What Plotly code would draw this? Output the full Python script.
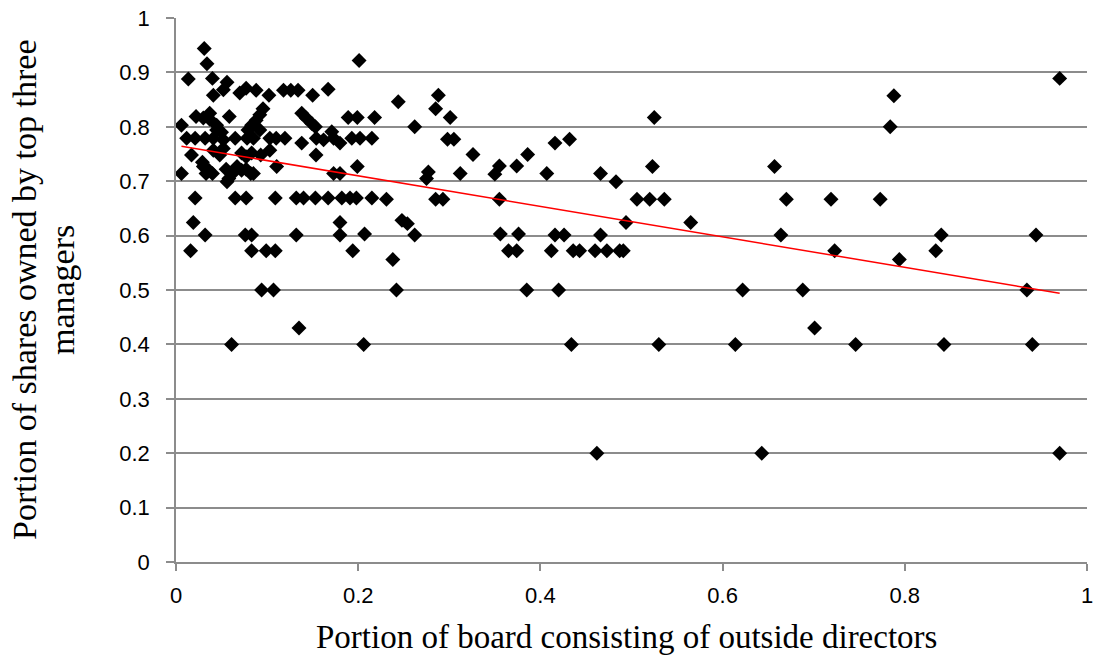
import numpy as np
import plotly.graph_objects as go

# Portion of board consisting of outside directors (x) and
# portion of shares owned by top three managers (y)
board_outside = [
    # top band
    0.031, 0.034, 0.0135, 0.040, 0.056, 0.052, 0.041, 0.070, 0.077, 0.088,
    0.102, 0.118, 0.126, 0.134, 0.150, 0.167, 0.201, 0.244, 0.288, 0.285,
    0.788, 0.970,
    # 0.80-0.84
    0.006, 0.022, 0.030, 0.037, 0.037, 0.0585, 0.0955, 0.092, 0.088, 0.083,
    0.0446, 0.138, 0.143, 0.149, 0.153, 0.189, 0.199, 0.218, 0.262, 0.301,
    0.525, 0.784,
    # 0.77-0.80
    0.0446, 0.079, 0.092, 0.0117, 0.021, 0.032, 0.041, 0.050, 0.052, 0.065,
    0.078, 0.085, 0.103, 0.110, 0.1196, 0.138, 0.154, 0.162, 0.171, 0.173,
    0.180, 0.193, 0.202, 0.215, 0.298, 0.305, 0.416, 0.432,
    # 0.74-0.76
    0.017, 0.041, 0.048, 0.052, 0.072, 0.077, 0.083, 0.093, 0.103, 0.1537,
    0.326, 0.386,
    # 0.70-0.74
    0.006, 0.029, 0.030, 0.036, 0.040, 0.033, 0.055, 0.058, 0.062, 0.067,
    0.072, 0.077, 0.082, 0.085, 0.056, 0.1105, 0.199, 0.173, 0.180, 0.277,
    0.275, 0.312, 0.355, 0.350, 0.374, 0.407, 0.466, 0.483, 0.523, 0.657,
    # 0.667
    0.021, 0.065, 0.077, 0.109, 0.132, 0.140, 0.153, 0.167, 0.182, 0.191,
    0.198, 0.215, 0.231, 0.285, 0.293, 0.355, 0.506, 0.520, 0.536, 0.670,
    0.719, 0.773,
    # 0.625
    0.019, 0.180, 0.248, 0.254, 0.494, 0.565,
    # 0.6
    0.032, 0.076, 0.083, 0.132, 0.180, 0.207, 0.262, 0.356, 0.376, 0.416,
    0.426, 0.466, 0.664, 0.840, 0.944,
    # 0.571
    0.016, 0.083, 0.099, 0.109, 0.194, 0.365, 0.374, 0.412, 0.436, 0.443,
    0.460, 0.473, 0.487, 0.491, 0.723, 0.834,
    # 0.556
    0.238, 0.794,
    # 0.5
    0.094, 0.107, 0.242, 0.385, 0.420, 0.622, 0.688, 0.934,
    # 0.43
    0.135, 0.701,
    # 0.4
    0.061, 0.206, 0.434, 0.530, 0.614, 0.746, 0.843, 0.940,
    # 0.2
    0.462, 0.643, 0.970,
]

shares_top3 = [
    0.944, 0.916, 0.888, 0.889, 0.882, 0.868, 0.858, 0.862, 0.871, 0.867,
    0.858, 0.867, 0.867, 0.867, 0.858, 0.869, 0.922, 0.846, 0.858, 0.833,
    0.857, 0.889,
    0.803, 0.819, 0.816, 0.825, 0.814, 0.819, 0.833, 0.822, 0.812, 0.803,
    0.803, 0.825, 0.816, 0.806, 0.800, 0.817, 0.817, 0.817, 0.800, 0.817,
    0.817, 0.800,
    0.794, 0.794, 0.794, 0.779, 0.779, 0.779, 0.779, 0.790, 0.776, 0.779,
    0.779, 0.779, 0.779, 0.779, 0.779, 0.770, 0.779, 0.776, 0.791, 0.779,
    0.770, 0.779, 0.779, 0.779, 0.777, 0.777, 0.770, 0.777,
    0.748, 0.757, 0.748, 0.760, 0.752, 0.745, 0.752, 0.748, 0.757, 0.748,
    0.749, 0.749,
    0.714, 0.735, 0.727, 0.720, 0.714, 0.714, 0.722, 0.705, 0.714, 0.727,
    0.720, 0.722, 0.714, 0.714, 0.699, 0.727, 0.727, 0.714, 0.714, 0.717,
    0.705, 0.714, 0.728, 0.713, 0.728, 0.714, 0.714, 0.699, 0.727, 0.727,
    0.669, 0.669, 0.669, 0.669, 0.669, 0.669, 0.669, 0.669, 0.669, 0.669,
    0.669, 0.669, 0.667, 0.667, 0.667, 0.667, 0.667, 0.667, 0.667, 0.667,
    0.667, 0.667,
    0.624, 0.624, 0.628, 0.622, 0.624, 0.624,
    0.601, 0.601, 0.601, 0.601, 0.601, 0.603, 0.601, 0.603, 0.603, 0.601,
    0.601, 0.601, 0.601, 0.601, 0.601,
    0.572, 0.572, 0.572, 0.572, 0.572, 0.572, 0.572, 0.572, 0.572, 0.572,
    0.572, 0.572, 0.572, 0.572, 0.572, 0.572,
    0.556, 0.556,
    0.500, 0.500, 0.500, 0.500, 0.500, 0.500, 0.500, 0.500,
    0.430, 0.430,
    0.400, 0.400, 0.400, 0.400, 0.400, 0.400, 0.400, 0.400,
    0.200, 0.200, 0.200,
]

x_ticks = [0, 0.2, 0.4, 0.6, 0.8, 1]
x_tick_text = ["0", "0.2", "0.4", "0.6", "0.8", "1"]
y_ticks = [0, 0.1, 0.2, 0.3, 0.4, 0.5, 0.6, 0.7, 0.8, 0.9, 1]
y_tick_text = ["0", "0.1", "0.2", "0.3", "0.4", "0.5", "0.6", "0.7", "0.8", "0.9", "1"]

x_title = "Portion of board consisting of outside directors"
y_title_lines = ["Portion of shares owned by top three", "managers"]

xs = np.array(board_outside)
ys = np.array(shares_top3)
slope, intercept = np.polyfit(xs, ys, 1)
trend_x = np.array([xs.min(), xs.max()])
trend_y = intercept + slope * trend_x

fig = go.Figure()
fig.add_trace(go.Scatter(
    x=xs, y=ys, mode="markers",
    marker=dict(symbol="diamond", size=11.5, color="black", line=dict(width=0)),
    showlegend=False, cliponaxis=False,
))
fig.add_trace(go.Scatter(
    x=trend_x, y=trend_y, mode="lines",
    line=dict(color="#ff0000", width=1.5),
    showlegend=False,
))

grid_col = "#8c8c8c"
tick_font = dict(family="Liberation Sans, Arial", size=22, color="black")
serif = "Liberation Serif, DejaVu Serif, serif"

fig.update_layout(
    width=1099, height=658,
    margin=dict(l=176, r=12, t=18, b=96, autoexpand=False),
    paper_bgcolor="white", plot_bgcolor="white",
    showlegend=False,
    xaxis=dict(
        range=[0, 1], tickvals=x_ticks, ticktext=x_tick_text,
        showgrid=False, zeroline=False, automargin=False,
        showline=True, linecolor=grid_col, linewidth=1.5,
        ticks="outside", ticklen=7, tickcolor=grid_col, tickwidth=1.5,
        ticklabelstandoff=6, ticklabeloverflow="allow",
        tickfont=tick_font,
        fixedrange=True,
    ),
    yaxis=dict(
        range=[0, 1], tickvals=y_ticks, ticktext=y_tick_text,
        showgrid=True, gridcolor=grid_col, gridwidth=1.5,
        zeroline=False, automargin=False,
        showline=True, linecolor=grid_col, linewidth=1.5,
        ticks="outside", ticklen=8, tickcolor=grid_col, tickwidth=1.5,
        ticklabelstandoff=12, ticklabeloverflow="allow",
        tickfont=tick_font,
        fixedrange=True,
    ),
    annotations=[
        dict(text=x_title, xref="paper", yref="paper", x=0.495, y=-0.138,
             xanchor="center", yanchor="middle", showarrow=False,
             font=dict(family=serif, size=33, color="black")),
        dict(text=y_title_lines[0], xref="paper", yref="paper", x=-0.1669, y=0.5,
             xanchor="center", yanchor="middle", showarrow=False, textangle=-90,
             font=dict(family=serif, size=34, color="black")),
        dict(text=y_title_lines[1], xref="paper", yref="paper", x=-0.1251, y=0.5,
             xanchor="center", yanchor="middle", showarrow=False, textangle=-90,
             font=dict(family=serif, size=34, color="black")),
    ],
)

# remove the browser's default 8px body margin so the figure fills the window
fig.write_html(
    "out.html",
    config={"displayModeBar": False},
    post_script="document.body.style.margin='0';",
)
